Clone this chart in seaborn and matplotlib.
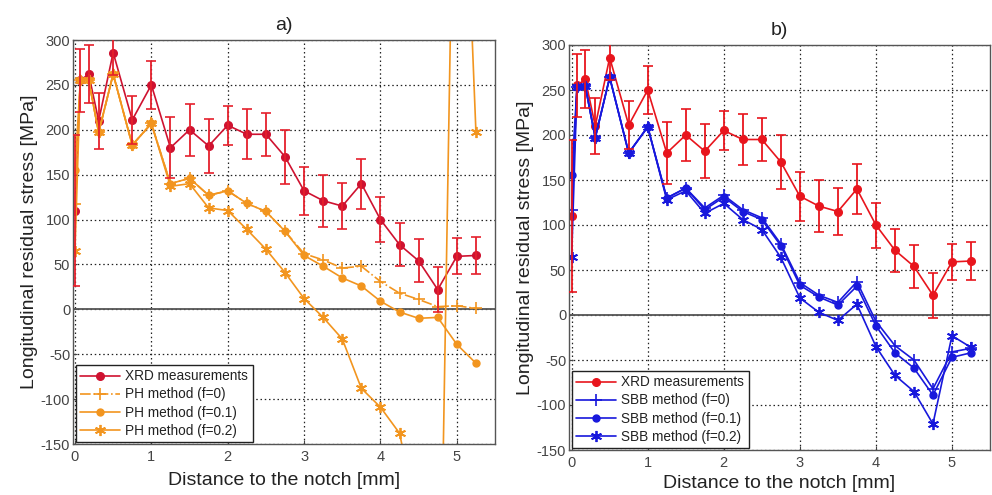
import numpy as np
import pandas as pd
import matplotlib
matplotlib.use("Agg")
import matplotlib.pyplot as plt
import seaborn as sns

# ---------------- data ----------------
distance = [0.0, 0.07, 0.18, 0.31, 0.5, 0.75, 1.0, 1.25, 1.5, 1.75, 2.0, 2.25,
            2.5, 2.75, 3.0, 3.25, 3.5, 3.75, 4.0, 4.25, 4.5, 4.75, 5.0, 5.25]

xrd = [110, 255, 262, 210, 286, 211, 250, 180, 200, 182, 205, 195,
       195, 170, 132, 121, 115, 140, 100, 72, 54, 22, 59, 60]
xrd_err = [84, 35, 32, 31, 25, 27, 27, 34, 29, 30, 22, 28,
           24, 30, 27, 29, 26, 28, 25, 24, 24, 25, 20, 21]

ph_f0 = [117, 255, 255, 197, 262, 183, 207, 140, 146, 127, 132, 118,
         109, 87, 62, 55, 46, 48, 31, 18, 11, 3, 4, 1]
ph_f01 = [155, 255, 255, 197, 262, 183, 207, 140, 146, 127, 132, 118,
          109, 87, 60, 48, 35, 26, 9, -3, -10, -9, -39, -60]
ph_f02 = [65, 255, 255, 197, 262, 183, 207, 137, 140, 113, 110, 89,
          67, 41, 12, -9, -33, -88, -109, -138, -240, -520, 730, 198]

sbb_f0 = [117, 253, 254, 197, 264, 180, 209, 130, 141, 119, 133, 117,
          108, 79, 36, 22, 14, 37, -7, -34, -50, -82, -41, -37]
sbb_f01 = [155, 253, 254, 197, 264, 180, 209, 130, 141, 117, 131, 115,
           106, 77, 33, 20, 11, 32, -12, -42, -59, -89, -47, -42]
sbb_f02 = [65, 253, 254, 197, 264, 180, 209, 128, 138, 113, 124, 106,
           95, 64, 19, 3, -6, 12, -35, -67, -85, -121, -23, -36]

titles = ["a)", "b)"]
xrd_label = "XRD measurements"
ph_labels = ["PH method (f=0)", "PH method (f=0.1)", "PH method (f=0.2)"]
sbb_labels = ["SBB method (f=0)", "SBB method (f=0.1)", "SBB method (f=0.2)"]
x_ticks = [0, 1, 2, 3, 4, 5]
y_ticks = [-150, -100, -50, 0, 50, 100, 150, 200, 250, 300]
xlabel = "Distance to the notch [mm]"
ylabel = "Longitudinal residual stress [MPa]"

# ---------------- style ----------------
sns.set_style("whitegrid")
plt.rcParams['font.family'] = ['Liberation Sans', 'DejaVu Sans']
plt.rcParams['axes.unicode_minus'] = False

RED_L = "#cf1230"
RED_R = "#e8151d"
ORANGE = "#f2951f"
BLUE = "#1818dc"
ASTERISK = (6, 2, 0)

fig = plt.figure(figsize=(9.92, 4.95), dpi=100)
axL = fig.add_axes([73/992, (495-444)/495, (495-73)/992, (444-40)/495])
axR = fig.add_axes([569/992, (495-450)/495, (990-569)/992, (450-45)/495])


def line(ax, y, color, marker, ls, label, ms=5, mew=1.0):
    sns.lineplot(x=distance, y=y, ax=ax, color=color, marker=marker,
                 linestyle=ls, linewidth=1.2, markersize=ms,
                 markeredgecolor=color, markerfacecolor=color,
                 markeredgewidth=mew, label=label, sort=False,
                 errorbar=None)


def setup(ax, title, xmin, xlabelpad):
    ax.set_xlim(xmin, 5.5)
    ax.set_ylim(-150, 300)
    ax.set_xticks(x_ticks)
    ax.set_yticks(y_ticks)
    ax.grid(True, linestyle=(0, (1.2, 2.2)), color="#222222", linewidth=0.9)
    ax.axhline(0, color="#555555", linewidth=1.3, zorder=1.5)
    for s in ax.spines.values():
        s.set_color("#555555")
        s.set_linewidth(1.0)
    ax.tick_params(axis="both", labelsize=10.5, colors="#444444",
                   length=3, direction="in", left=True, bottom=True,
                   pad=2)
    ax.tick_params(axis="x", pad=4)
    ax.set_xlabel(xlabel, fontsize=14, color="#222222", labelpad=xlabelpad)
    ax.set_ylabel(ylabel, fontsize=14, color="#222222", labelpad=2)
    ax.set_title(title, fontsize=14, color="#222222", pad=7)


# ---- left panel ----
axL.errorbar(distance, xrd, yerr=xrd_err, fmt="none", ecolor="#e5202c",
             elinewidth=1.3, capsize=3.5, capthick=1.2, zorder=3)
line(axL, xrd, RED_L, "o", "-", xrd_label, ms=5.5)
line(axL, ph_f0, ORANGE, "+", "-.", ph_labels[0], ms=8, mew=1.2)
line(axL, ph_f01, ORANGE, "o", "-", ph_labels[1], ms=5)
line(axL, ph_f02, ORANGE, ASTERISK, "-", ph_labels[2], ms=8, mew=1.3)
setup(axL, titles[0], -0.026, 6)

# ---- right panel ----
axR.errorbar(distance, xrd, yerr=xrd_err, fmt="none", ecolor=RED_R,
             elinewidth=1.3, capsize=3.5, capthick=1.2, zorder=3)
line(axR, xrd, RED_R, "o", "-", xrd_label, ms=5.5)
line(axR, sbb_f0, BLUE, "+", "-", sbb_labels[0], ms=8, mew=1.2)
line(axR, sbb_f01, BLUE, "o", "-", sbb_labels[1], ms=5)
line(axR, sbb_f02, BLUE, ASTERISK, "-", sbb_labels[2], ms=8, mew=1.3)
setup(axR, titles[1], -0.035, 4)

for ax in (axL, axR):
    leg = ax.legend(loc="lower left", bbox_to_anchor=(0.006, 0.004),
                    borderaxespad=0, fontsize=9.8, frameon=True,
                    fancybox=False, edgecolor="#222222", framealpha=1,
                    handlelength=2.9, labelspacing=0.3, borderpad=0.35,
                    handletextpad=0.4)
    leg.get_frame().set_linewidth(1.0)
    for t in leg.get_texts():
        t.set_color("#222222")

fig.savefig("out.png", dpi=100)
